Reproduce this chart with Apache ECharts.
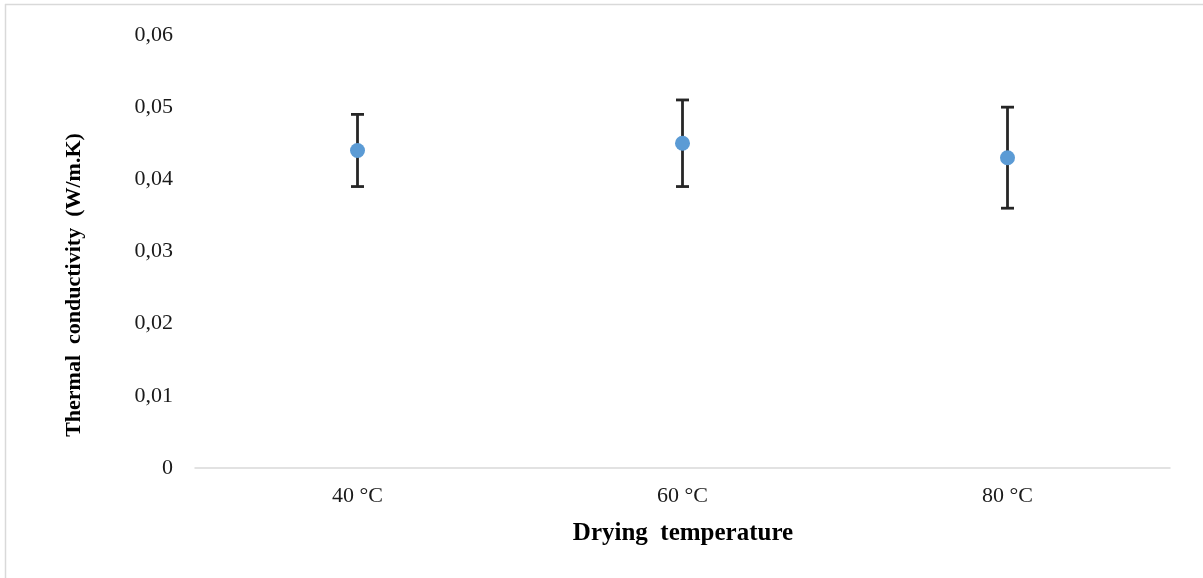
<!DOCTYPE html>
<html>
<head>
<meta charset="utf-8">
<script src="https://cdn.jsdelivr.net/npm/echarts@6/dist/echarts.min.js"></script>
<style>
html,body{margin:0;padding:0;background:#fff;}
#chart{width:1203px;height:578px;}
</style>
</head>
<body>
<div id="chart"></div>
<script>
const categories = ['40 °C', '60 °C', '80 °C'];
const values = [0.044, 0.045, 0.043];
const errLow = [0.039, 0.039, 0.036];
const errHigh = [0.049, 0.051, 0.050];
const yTicks = [0, 0.01, 0.02, 0.03, 0.04, 0.05, 0.06];
const xTitle = 'Drying  temperature';
const yTitle = 'Thermal  conductivity  (W/m.K)';

const errData = categories.map((c, i) => [i, errLow[i], errHigh[i]]);
const font = '"Liberation Serif", "Times New Roman", serif';

const chart = echarts.init(document.getElementById('chart'), null, {renderer: 'canvas'});
chart.setOption({
  animation: false,
  backgroundColor: '#fff',
  grid: {left: 195, right: 33, top: 35, bottom: 110},
  xAxis: {
    type: 'category',
    data: categories,
    boundaryGap: true,
    axisLine: {lineStyle: {color: '#d9d9d9', width: 1.5}},
    axisTick: {show: false},
    axisLabel: {color: '#1a1a1a', fontFamily: font, fontSize: 22, margin: 17}
  },
  yAxis: {
    type: 'value',
    min: yTicks[0],
    max: yTicks[yTicks.length - 1],
    interval: 0.01,
    axisLine: {show: false},
    axisTick: {show: false},
    splitLine: {show: false},
    axisLabel: {
      color: '#1a1a1a', fontFamily: font, fontSize: 22, margin: 22,
      formatter: v => (v === 0 ? '0' : v.toFixed(2).replace('.', ','))
    }
  },
  graphic: [
    {type: 'line', shape: {x1: 5, y1: 4.5, x2: 1203, y2: 4.5}, style: {stroke: '#d9d9d9', lineWidth: 1.5}},
    {type: 'line', shape: {x1: 5.5, y1: 4, x2: 5.5, y2: 578}, style: {stroke: '#d9d9d9', lineWidth: 1.5}},
    {type: 'text', x: 683, y: 534, style: {text: xTitle, font: 'bold 25px ' + font, fill: '#000', textAlign: 'center', textVerticalAlign: 'middle'}},
    {type: 'text', x: 74, y: 285, rotation: Math.PI / 2, style: {text: yTitle, font: 'bold 22px ' + font, fill: '#000', textAlign: 'center', textVerticalAlign: 'middle'}}
  ],
  series: [
    {
      type: 'custom',
      data: errData,
      z: 2,
      renderItem: function (params, api) {
        const x = api.coord([api.value(0), api.value(1)])[0];
        const lo = api.coord([api.value(0), api.value(1)])[1];
        const hi = api.coord([api.value(0), api.value(2)])[1];
        const cap = 6.5;
        const style = {stroke: '#262626', lineWidth: 2.8, fill: null};
        return {
          type: 'group',
          children: [
            {type: 'line', shape: {x1: x, y1: hi, x2: x, y2: lo}, style: style},
            {type: 'line', shape: {x1: x - cap, y1: hi, x2: x + cap, y2: hi}, style: style},
            {type: 'line', shape: {x1: x - cap, y1: lo, x2: x + cap, y2: lo}, style: style}
          ]
        };
      }
    },
    {
      type: 'scatter',
      data: values,
      z: 3,
      symbol: 'circle',
      symbolSize: 15,
      itemStyle: {color: '#5b9bd5', opacity: 1}
    }
  ]
});
</script>
</body>
</html>
